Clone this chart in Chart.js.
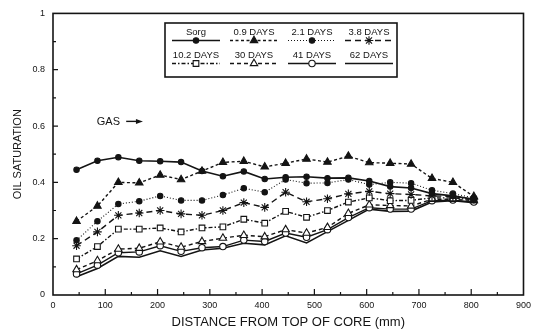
<!DOCTYPE html>
<html>
<head>
<meta charset="utf-8">
<script src="https://cdn.jsdelivr.net/npm/chart.js@4.4.1/dist/chart.umd.min.js"></script>
<style>
  html, body { margin: 0; padding: 0; background: #fff; }
  #wrap { width: 536px; height: 331px; }
</style>
</head>
<body>
<div id="wrap"><canvas id="grafico" width="536" height="331"></canvas></div>
<script>
// distance from top of core (mm)
var distance = [45, 85, 125, 165, 205, 245, 285, 325, 365, 405, 445, 485, 525, 565, 605, 645, 685, 725, 765, 805];

// oil saturation profiles
var sorg    = [0.445, 0.477, 0.489, 0.477, 0.475, 0.472, 0.440, 0.422, 0.439, 0.412, 0.418, 0.420, 0.415, 0.416, 0.405, 0.385, 0.380, 0.360, 0.352, 0.340];
var days0_9 = [0.262, 0.316, 0.400, 0.398, 0.426, 0.410, 0.440, 0.471, 0.475, 0.455, 0.468, 0.483, 0.472, 0.493, 0.470, 0.468, 0.465, 0.414, 0.400, 0.350];
var days2_1 = [0.194, 0.262, 0.323, 0.333, 0.352, 0.336, 0.336, 0.355, 0.379, 0.365, 0.410, 0.397, 0.398, 0.410, 0.392, 0.400, 0.397, 0.372, 0.360, 0.345];
var days3_8 = [0.175, 0.224, 0.283, 0.291, 0.300, 0.288, 0.283, 0.300, 0.328, 0.311, 0.365, 0.331, 0.342, 0.359, 0.368, 0.360, 0.357, 0.352, 0.350, 0.340];
var days10_2 = [0.128, 0.172, 0.234, 0.234, 0.238, 0.224, 0.238, 0.242, 0.269, 0.255, 0.297, 0.276, 0.300, 0.330, 0.345, 0.335, 0.336, 0.345, 0.345, 0.338];
var days30  = [0.090, 0.122, 0.163, 0.166, 0.189, 0.170, 0.190, 0.202, 0.212, 0.207, 0.232, 0.220, 0.240, 0.290, 0.320, 0.318, 0.316, 0.340, 0.340, 0.335];
var days41  = [0.075, 0.106, 0.150, 0.153, 0.175, 0.155, 0.168, 0.172, 0.195, 0.190, 0.220, 0.205, 0.232, 0.275, 0.310, 0.305, 0.305, 0.335, 0.337, 0.330];
var days62  = [0.065, 0.094, 0.137, 0.134, 0.157, 0.137, 0.160, 0.166, 0.184, 0.178, 0.210, 0.185, 0.225, 0.265, 0.305, 0.297, 0.298, 0.330, 0.335, 0.328];

var seriesNames = ['Sorg', '0.9 DAYS', '2.1 DAYS', '3.8 DAYS', '10.2 DAYS', '30 DAYS', '41 DAYS', '62 DAYS'];

var xTickLabels = ['0', '100', '200', '300', '400', '500', '600', '700', '800', '900'];
var yTickLabels = ['0', '0.2', '0.4', '0.6', '0.8', '1'];

var ink = '#141414';
var fuente = '"Liberation Sans", Arial, sans-serif';

function pares(valores) {
	return distance.map(function (d, i) { return { x: d, y: valores[i] }; });
}

function serie(label, valores, estilo) {
	return Object.assign({
		label: label,
		data: pares(valores),
		borderColor: ink,
		backgroundColor: ink,
		pointBorderColor: ink,
		borderWidth: 1.4,
		pointBorderWidth: 1.1,
		pointRadius: 2.6,
		pointStyle: 'circle',
		borderDash: [],
		tension: 0,
		fill: false
	}, estilo);
}

var data = {
	datasets: [
		serie(seriesNames[0], sorg, { pointStyle: 'circle', pointRadius: 2.7, borderWidth: 1.6 }),
		serie(seriesNames[1], days0_9, { pointStyle: 'triangle', pointRadius: 4.3, borderDash: [3, 2.5] }),
		serie(seriesNames[2], days2_1, { pointStyle: 'circle', pointRadius: 2.7, borderDash: [1, 2], borderWidth: 1.1 }),
		serie(seriesNames[3], days3_8, { pointStyle: 'star', pointRadius: 4.3, borderDash: [6, 4] }),
		serie(seriesNames[4], days10_2, { pointStyle: 'rect', pointRadius: 4, backgroundColor: '#fff', borderDash: [4, 2, 1.5, 2] }),
		serie(seriesNames[5], days30, { pointStyle: 'triangle', pointRadius: 4.3, backgroundColor: '#fff', borderDash: [4, 3] }),
		serie(seriesNames[6], days41, { pointStyle: 'circle', pointRadius: 3.2, backgroundColor: '#fff' }),
		serie(seriesNames[7], days62, { pointRadius: 0, borderWidth: 1.6 })
	]
};

// frame around the plot with inward tick marks
var marco = {
	id: 'marco',
	afterDraw: function (chart) {
		var ctx = chart.ctx, a = chart.chartArea, sx = chart.scales.x, sy = chart.scales.y;
		ctx.save();
		ctx.strokeStyle = ink;
		ctx.lineWidth = 1.6;
		ctx.strokeRect(a.left, a.top, a.right - a.left, a.bottom - a.top);
		ctx.lineWidth = 1.2;
		ctx.beginPath();
		for (var v = 50; v < 900; v += 50) {
			var px = sx.getPixelForValue(v);
			var len = (v % 100) ? 3 : 6;
			ctx.moveTo(px, a.bottom);
			ctx.lineTo(px, a.bottom - len);
		}
		for (var k = 1; k < 10; k++) {
			var py = sy.getPixelForValue(k / 10);
			var l = (k % 2) ? 3 : 5;
			ctx.moveTo(a.left, py);
			ctx.lineTo(a.left + l, py);
		}
		ctx.stroke();
		ctx.restore();
	}
};

// boxed legend: label over a line sample, two rows of four
var leyenda = {
	id: 'leyenda',
	afterDraw: function (chart) {
		var ctx = chart.ctx;
		var box = { x: 165, y: 23, w: 232, h: 54 };
		var colX = [196, 254, 312, 369];
		var rowY = [32, 55];
		ctx.save();
		ctx.fillStyle = '#fff';
		ctx.fillRect(box.x, box.y, box.w, box.h);
		ctx.strokeStyle = ink;
		ctx.lineWidth = 1.6;
		ctx.strokeRect(box.x, box.y, box.w, box.h);
		ctx.font = '9.5px ' + fuente;
		ctx.textAlign = 'center';
		ctx.textBaseline = 'middle';
		chart.data.datasets.forEach(function (ds, i) {
			var cx = colX[i % 4], ty = rowY[Math.floor(i / 4)];
			var ly = ty + 8.5;
			ctx.fillStyle = ink;
			ctx.fillText(ds.label, cx, ty);
			ctx.strokeStyle = ink;
			ctx.lineWidth = ds.borderWidth;
			ctx.setLineDash(ds.borderDash);
			ctx.beginPath();
			ctx.moveTo(cx - 24, ly);
			ctx.lineTo(cx + 24, ly);
			ctx.stroke();
			ctx.setLineDash([]);
			if (ds.pointRadius > 0) {
				ctx.fillStyle = ds.backgroundColor;
				ctx.lineWidth = ds.pointBorderWidth;
				Chart.helpers.drawPoint(ctx, { pointStyle: ds.pointStyle, radius: ds.pointRadius, borderWidth: 1, rotation: 0 }, cx, ly);
			}
		});
		ctx.restore();
	}
};

// "GAS" note with a small arrow
var nota = {
	id: 'nota',
	afterDraw: function (chart) {
		var ctx = chart.ctx, sx = chart.scales.x, sy = chart.scales.y;
		var tx = sx.getPixelForValue(106), ty = sy.getPixelForValue(0.613);
		var x0 = sx.getPixelForValue(140), x1 = sx.getPixelForValue(172);
		ctx.save();
		ctx.fillStyle = ink;
		ctx.strokeStyle = ink;
		ctx.font = '11px ' + fuente;
		ctx.textAlign = 'center';
		ctx.textBaseline = 'middle';
		ctx.fillText('GAS', tx, ty);
		ctx.lineWidth = 1.4;
		ctx.beginPath();
		ctx.moveTo(x0, ty - 1);
		ctx.lineTo(x1 - 5, ty - 1);
		ctx.stroke();
		ctx.beginPath();
		ctx.moveTo(x1, ty - 1);
		ctx.lineTo(x1 - 7, ty - 3.5);
		ctx.lineTo(x1 - 7, ty + 1.5);
		ctx.closePath();
		ctx.fill();
		ctx.restore();
	}
};

var contexto = document.getElementById('grafico').getContext('2d');

var grafico = new Chart(contexto, {
	type: 'line',
	data: data,
	plugins: [marco, leyenda, nota],
	options: {
		responsive: false,
		animation: false,
		layout: { padding: { top: 12, right: 8, left: 0, bottom: 0 } },
		plugins: {
			legend: { display: false },
			tooltip: { enabled: false }
		},
		scales: {
			x: {
				type: 'linear',
				min: 0,
				max: 900,
				afterFit: function (s) { s.height = 36; },
				grid: { display: false, drawTicks: false },
				border: { display: false },
				ticks: {
					stepSize: 100,
					padding: 5,
					maxRotation: 0,
					autoSkip: false,
					color: ink,
					font: { family: fuente, size: 9 },
					callback: function (v, i) { return xTickLabels[i]; }
				},
				title: {
					display: true,
					text: 'DISTANCE FROM TOP OF CORE (mm)',
					color: ink,
					font: { family: fuente, size: 13 },
					padding: { top: 0, bottom: 1 }
				}
			},
			y: {
				min: 0,
				max: 1,
				afterFit: function (s) { s.width = 53; },
				grid: { display: false, drawTicks: false },
				border: { display: false },
				ticks: {
					stepSize: 0.2,
					padding: 8,
					color: ink,
					font: { family: fuente, size: 9 },
					callback: function (v, i) { return yTickLabels[i]; }
				},
				title: {
					display: true,
					text: 'OIL SATURATION',
					color: ink,
					font: { family: fuente, size: 11 },
					padding: { top: 11, bottom: 0 }
				}
			}
		}
	}
});
</script>
</body>
</html>
